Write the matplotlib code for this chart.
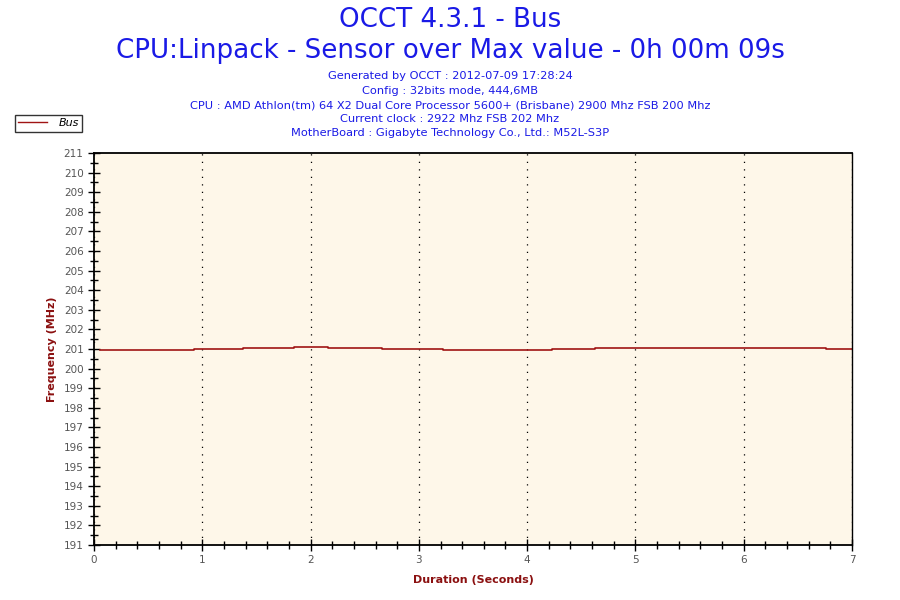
import matplotlib
matplotlib.use("Agg")
import matplotlib.pyplot as plt
from matplotlib.ticker import MultipleLocator

# Data (step samples)
times = [0.06, 0.92, 1.38, 1.85, 2.16, 2.66, 3.22, 4.23, 4.63, 6.76, 7.0]
values = [200.93, 200.98, 201.04, 201.10, 201.04, 200.98, 200.93, 200.98, 201.04, 200.98, 200.98]
series_name = "Bus"

title1 = "OCCT 4.3.1 - Bus"
title2 = "CPU:Linpack - Sensor over Max value - 0h 00m 09s"
info_lines = [
    "Generated by OCCT : 2012-07-09 17:28:24",
    "Config : 32bits mode, 444,6MB",
    "CPU : AMD Athlon(tm) 64 X2 Dual Core Processor 5600+ (Brisbane) 2900 Mhz FSB 200 Mhz",
    "Current clock : 2922 Mhz FSB 202 Mhz",
    "MotherBoard : Gigabyte Technology Co., Ltd.: M52L-S3P",
]
xlabel = "Duration (Seconds)"
ylabel = "Frequency (MHz)"

plt.rcParams['font.family'] = ['DejaVu Sans']

fig = plt.figure(figsize=(9, 6), dpi=100)
fig.patch.set_facecolor('white')
ax = fig.add_axes([94/900, 1-545/600, (852-94)/900, (545-153)/600])
ax.set_facecolor('#FEF7E9')

line_color = '#A01414'
ax.plot(times, values, drawstyle='steps-post', color=line_color, lw=1.2)

ax.set_xlim(0, 7)
ax.set_ylim(191, 211)
ax.xaxis.set_major_locator(MultipleLocator(1))
ax.xaxis.set_minor_locator(MultipleLocator(0.2))
ax.yaxis.set_major_locator(MultipleLocator(1))
ax.yaxis.set_minor_locator(MultipleLocator(0.5))
ax.tick_params(axis='both', which='major', direction='inout', length=9, width=1,
               color='black', labelcolor='#555555', labelsize=7.5)
ax.tick_params(axis='both', which='minor', direction='inout', length=6, width=1, color='black')
ax.tick_params(axis='x', which='major', pad=3)
ax.tick_params(axis='y', which='major', pad=3)

for s in ax.spines.values():
    s.set_color('black')
    s.set_linewidth(1.3)
ax.spines['right'].set_linewidth(1.0)

ax.grid(axis='x', which='major', color='black', linestyle=(0, (1, 5)), linewidth=0.9)
ax.set_axisbelow(True)

ax.set_xlabel(xlabel, color='#8B1010', fontsize=8, fontweight='bold', labelpad=7)
ax.set_ylabel(ylabel, color='#8B1010', fontsize=8, fontweight='bold', labelpad=4.5)

blue = '#1A1AE6'
fig.text(0.5, 1-20/600, title1, ha='center', va='center', color=blue, fontsize=18.8)
fig.text(0.5, 1-51/600, title2, ha='center', va='center', color=blue, fontsize=18.8)
ys = [76, 91, 105, 119, 133]
for y, t in zip(ys, info_lines):
    fig.text(0.5, 1-y/600, t, ha='center', va='center', color=blue, fontsize=8.2)

leg = fig.legend([plt.Line2D([0], [0], color=line_color, lw=1)], [series_name],
                 loc='upper left', bbox_to_anchor=(15/900, 1-115/600),
                 frameon=True, fancybox=False, fontsize=8, handlelength=2.6,
                 borderpad=0.3, handletextpad=1.0, borderaxespad=0)
leg.get_frame().set_edgecolor('black')
leg.get_frame().set_linewidth(1)
for t in leg.get_texts():
    t.set_fontstyle('italic')

fig.savefig('out.png', dpi=100)
